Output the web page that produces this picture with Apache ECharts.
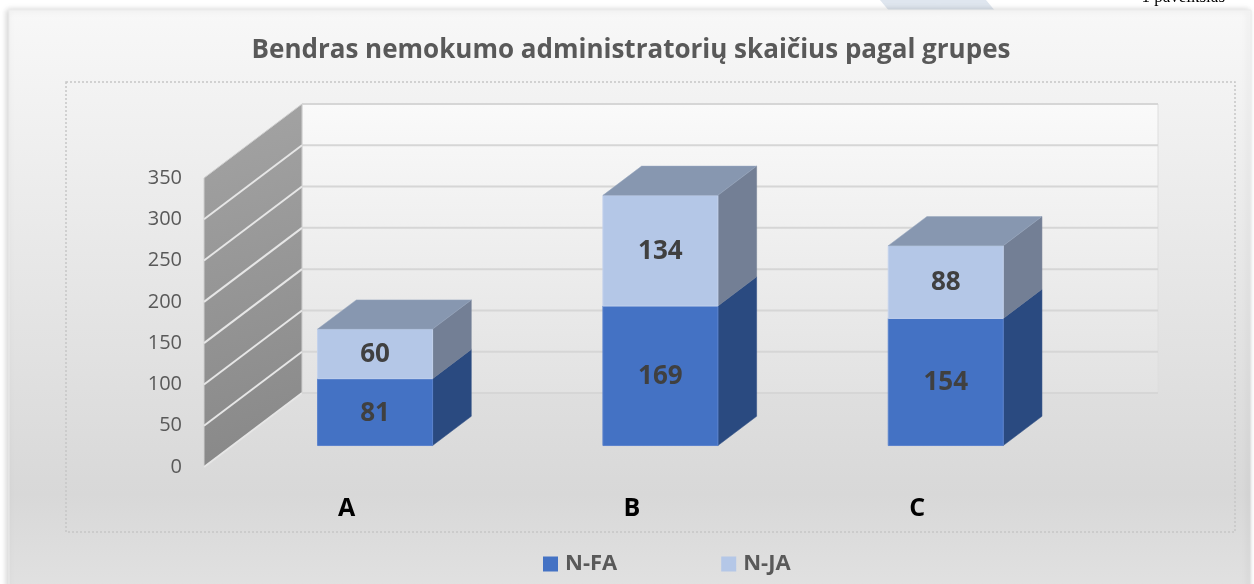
<!DOCTYPE html>
<html>
<head>
<meta charset="utf-8">
<script src="https://cdn.jsdelivr.net/npm/echarts@6/dist/echarts.min.js"></script>
<style>
  html, body { margin: 0; padding: 0; background: #ffffff; }
  #chart { width: 1254px; height: 584px; }
</style>
</head>
<body>
<div id="chart"></div>
<script>
const titleText = 'Bendras nemokumo administratorių skaičius pagal grupes';
const categories = ['A', 'B', 'C'];
const seriesNames = ['N-FA', 'N-JA'];
const nFA = [81, 169, 154];
const nJA = [60, 134, 88];
const yTicks = [0, 50, 100, 150, 200, 250, 300, 350];

const FONT = '"Open Sans", "Noto Sans", sans-serif';
// depth of the fake 3d box, in px
const DX = 98, DY = -74;
const D0 = 0.29, D1 = 0.685;

const frontColors = ['#4472c4', '#b4c7e7'];
const sideColors = ['#2a4a80', '#737f95'];
const topColor = '#8797b0';

const chart = echarts.init(document.getElementById('chart'));

function renderWalls(params, api) {
    const cs = params.coordSys;
    const x0 = cs.x, x1 = cs.x + cs.width;
    const yTop = api.coord([0, yTicks[yTicks.length - 1]])[1];
    const yBot = api.coord([0, 0])[1];
    const children = [];

    // back wall
    children.push({
        type: 'rect',
        shape: { x: x0 + DX, y: yTop + DY, width: x1 - x0, height: yBot - yTop },
        style: {
            fill: new echarts.graphic.LinearGradient(0, 0, 0, 1, [
                { offset: 0, color: '#fafafa' },
                { offset: 1, color: '#e2e2e2' }
            ]),
            stroke: '#dedede', lineWidth: 1
        }
    });
    // side wall
    children.push({
        type: 'polygon',
        shape: { points: [[x0, yBot], [x0 + DX, yBot + DY], [x0 + DX, yTop + DY], [x0, yTop]] },
        style: {
            fill: new echarts.graphic.LinearGradient(0, 0, 1, 1, [
                { offset: 0, color: '#a4a4a4' },
                { offset: 1, color: '#878787' }
            ]),
            stroke: '#d0d0d0', lineWidth: 1
        }
    });
    yTicks.forEach(function (v) {
        const y = api.coord([0, v])[1];
        if (v !== yTicks[yTicks.length - 1]) {
            children.push({
                type: 'line',
                shape: { x1: x0, y1: y, x2: x0 + DX, y2: y + DY },
                style: { stroke: '#e6e6e6', lineWidth: 2 }
            });
        }
        children.push({
            type: 'line',
            shape: { x1: x0 + DX, y1: y + DY, x2: x1 + DX, y2: y + DY },
            style: { stroke: '#d6d6d6', lineWidth: 2 }
        });
    });
    return { type: 'group', children: children };
}

function makeBarRender(si) {
    return function (params, api) {
        const idx = api.value(0);
        const val = api.value(1);
        const base = si === 0 ? 0 : nFA[idx];
        const pLow = api.coord([idx, base]);
        const pHigh = api.coord([idx, base + val]);
        const band = api.size([1, 0])[0];
        const w = band * 0.403;
        const cx = pLow[0] + DX * D0;
        const yb = pLow[1] + DY * D0;
        const yt = pHigh[1] + DY * D0;
        const ddx = DX * (D1 - D0), ddy = DY * (D1 - D0);
        const xl = cx - w / 2, xr = cx + w / 2;
        const children = [
            {
                type: 'polygon',
                shape: { points: [[xr, yb], [xr + ddx, yb + ddy], [xr + ddx, yt + ddy], [xr, yt]] },
                style: { fill: sideColors[si], stroke: sideColors[si], lineWidth: 0.5 }
            },
            {
                type: 'rect',
                shape: { x: xl, y: yt, width: w, height: yb - yt },
                style: { fill: frontColors[si], stroke: si === 0 ? '#5a82cc' : '#c2d1ec', lineWidth: 1 }
            }
        ];
        if (si === seriesNames.length - 1) {
            children.push({
                type: 'polygon',
                shape: { points: [[xl, yt], [xr, yt], [xr + ddx, yt + ddy], [xl + ddx, yt + ddy]] },
                style: { fill: topColor, stroke: '#97a6be', lineWidth: 0.5 }
            });
        }
        children.push({
            type: 'text',
            style: {
                x: cx, y: (yt + yb) / 2 + 1, text: String(val),
                align: 'center', verticalAlign: 'middle',
                fill: '#404040', font: 'bold 26px ' + FONT
            }
        });
        return { type: 'group', children: children };
    };
}

const barData = [nFA, nJA];

const option = {
    animation: false,
    backgroundColor: 'transparent',
    graphic: [
        {
            type: 'polygon', z: -10,
            shape: { points: [[880, 0], [986, 0], [996, 12], [890, 12]] },
            style: { fill: '#dfe6ef' }
        },
        {
            type: 'text', z: -9,
            style: {
                x: 1225, y: 6, text: '1 paveikslas', align: 'right', verticalAlign: 'bottom',
                font: '17px "Liberation Serif", serif', fill: '#000'
            }
        },
        {
            type: 'rect', z: -8,
            shape: { x: 9, y: 10, width: 1242, height: 590 },
            style: {
                fill: new echarts.graphic.LinearGradient(0, 0, 0, 1, [
                    { offset: 0, color: '#f8f8f8' },
                    { offset: 0.82, color: '#d8d8d8' },
                    { offset: 1, color: '#e2e2e2' }
                ]),
                stroke: '#ececec', lineWidth: 1,
                shadowBlur: 6, shadowColor: 'rgba(0,0,0,0.18)', shadowOffsetX: -2, shadowOffsetY: 0
            }
        },
        {
            type: 'rect', z: -7,
            shape: { x: 66, y: 82, width: 1169, height: 450 },
            style: { fill: null, stroke: '#c6c6c6', lineWidth: 1.5, lineDash: [2, 2] }
        },
        {
            type: 'text', z: 5,
            style: {
                x: 631, y: 51, text: titleText, align: 'center', verticalAlign: 'middle',
                font: 'bold 26px ' + FONT, fill: '#595959'
            }
        }
    ],
    legend: {
        data: seriesNames,
        left: 538,
        top: 548,
        itemWidth: 15,
        itemHeight: 15,
        itemGap: 104,
        icon: 'rect',
        textStyle: { fontFamily: FONT, fontWeight: 'bold', fontSize: 22, color: '#595959', padding: [0, 0, 0, 2] }
    },
    grid: { left: 204, top: 178, width: 856, height: 289, containLabel: false },
    xAxis: {
        type: 'category',
        data: categories,
        axisLine: { show: false },
        axisTick: { show: false },
        axisLabel: { fontFamily: FONT, fontWeight: 'bold', fontSize: 25, color: '#000', margin: 29 },
        splitLine: { show: false }
    },
    yAxis: {
        type: 'value',
        min: yTicks[0],
        max: yTicks[yTicks.length - 1],
        interval: yTicks[1] - yTicks[0],
        axisLine: { show: false },
        axisTick: { show: false },
        splitLine: { show: false },
        axisLabel: { fontFamily: FONT, fontSize: 20, color: '#595959', margin: 22 }
    },
    series: [
        {
            type: 'custom',
            name: 'walls',
            renderItem: renderWalls,
            data: [[0, 0]],
            clip: false,
            silent: true,
            z: 1
        }
    ].concat(seriesNames.map(function (name, si) {
        return {
            type: 'custom',
            name: name,
            itemStyle: { color: frontColors[si] },
            renderItem: makeBarRender(si),
            encode: { x: 0, y: 1 },
            data: categories.map(function (c, i) { return [i, barData[si][i]]; }),
            clip: false,
            z: 2 + si
        };
    }))
};

chart.setOption(option);
</script>
</body>
</html>
